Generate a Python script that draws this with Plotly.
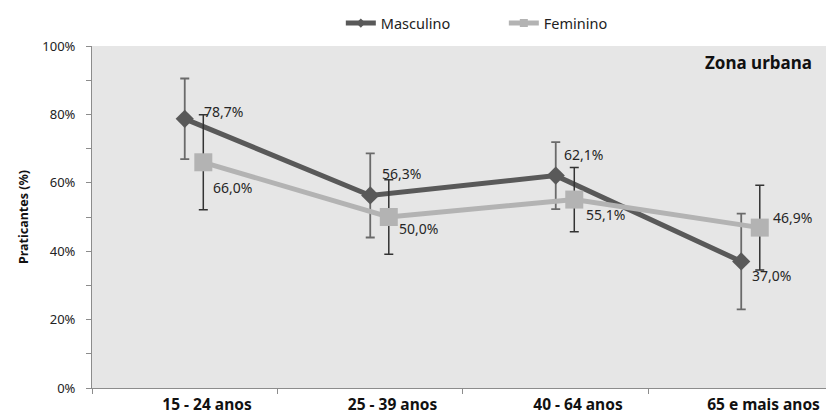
import plotly.graph_objects as go

categories = ["15 - 24 anos", "25 - 39 anos", "40 - 64 anos", "65 e mais anos"]
masc_values = [78.7, 56.3, 62.1, 37.0]
masc_err = [11.8, 12.3, 9.8, 14.0]
fem_values = [66.0, 50.0, 55.1, 46.9]
fem_err = [13.9, 10.9, 9.4, 12.4]
y_ticks = [0, 20, 40, 60, 80, 100]

# label offsets in px (style only)
masc_lbl_dx = [17, 10, 6, 9]
masc_lbl_dy = [7, 22, 21, -14]
fem_lbl_dx = [8, 8, 10, 11]
fem_lbl_dy = [-25, -11, -15, 10]

MASC = "#595959"
FEM = "#b3b3b3"


def fmt(v):
    return f"{v:.1f}".replace(".", ",") + "%"


x_idx = list(range(1, len(categories) + 1))
fem_shift = 0.1
label_shift = 0.12
x_fem = [i + fem_shift for i in x_idx]

fig = go.Figure()
fig.add_trace(go.Scatter(
    x=x_idx, y=masc_values, name="Masculino", mode="lines+markers", showlegend=False,
    line=dict(color=MASC, width=5),
    marker=dict(symbol="diamond", size=14, color=MASC),
    error_y=dict(type="data", array=masc_err, color="#6a6a6a", thickness=1.8, width=4.5),
))
fig.add_trace(go.Scatter(
    x=x_fem, y=fem_values, name="Feminino", mode="lines+markers", showlegend=False,
    line=dict(color=FEM, width=5),
    marker=dict(symbol="square", size=18, color=FEM),
    error_y=dict(type="data", array=fem_err, color="#333333", thickness=1.5, width=4.5),
))
# legend entries with small markers
fig.add_trace(go.Scatter(
    x=[None], y=[None], name="Masculino", mode="lines+markers",
    line=dict(color=MASC, width=5), marker=dict(symbol="diamond", size=7, color=MASC),
))
fig.add_trace(go.Scatter(
    x=[None], y=[None], name="Feminino", mode="lines+markers",
    line=dict(color=FEM, width=5), marker=dict(symbol="square", size=8, color=FEM),
))

lbl_font = dict(family="Noto Sans, Arial", size=14, color="#262626")
for xv, yv, dx, dy in zip(x_idx, masc_values, masc_lbl_dx, masc_lbl_dy):
    fig.add_annotation(x=xv, y=yv, text=fmt(yv), showarrow=False, xanchor="left",
                       yanchor="middle", xshift=dx, yshift=dy, font=lbl_font)
for xv, yv, dx, dy in zip(x_fem, fem_values, fem_lbl_dx, fem_lbl_dy):
    fig.add_annotation(x=xv, y=yv, text=fmt(yv), showarrow=False, xanchor="left",
                       yanchor="middle", xshift=dx, yshift=dy, font=lbl_font)

fig.add_annotation(
    text="<b>Zona urbana</b>", xref="paper", yref="paper", x=0.984, y=0.953,
    xanchor="right", yanchor="middle", showarrow=False,
    font=dict(family="Noto Sans, Arial", size=17, color="#111111"),
)

fig.update_layout(
    width=826, height=414,
    margin=dict(l=92, r=0, t=46, b=26, autoexpand=False),
    paper_bgcolor="white", plot_bgcolor="#e6e6e6",
    font=dict(family="Noto Sans, Arial", size=13, color="#222222"),
    legend=dict(orientation="h", x=0.339, xanchor="left", y=0.944, yanchor="middle",
                yref="container", font=dict(size=14.5, color="#222222"),
                bgcolor="rgba(0,0,0,0)", entrywidth=118, entrywidthmode="pixels",
                itemwidth=30),
    showlegend=True,
)

fig.update_xaxes(
    range=[0.5, 4.457], tickvals=[i + label_shift for i in x_idx], ticktext=categories, ticks="",
    tickfont=dict(family="Noto Sans, Arial", size=15.5, color="#111111", weight="bold"),
    ticklabelstandoff=2,
    showgrid=False, zeroline=False, showline=True, linecolor="#8c8c8c", linewidth=1,
    minor=dict(tick0=0.5, dtick=1, ticks="outside", ticklen=5, tickcolor="#8c8c8c", showgrid=False),
)
fig.update_yaxes(
    range=[0, 100], tickvals=y_ticks, ticktext=[f"{t}%" for t in y_ticks],
    ticks="outside", ticklen=5, tickcolor="#8c8c8c", ticklabelstandoff=8,
    tickfont=dict(family="Noto Sans, Arial", size=13, color="#222222"),
    showgrid=False, zeroline=False, showline=True, linecolor="#8c8c8c", linewidth=1,
    minor=dict(tick0=0, dtick=10, ticks="outside", ticklen=5, tickcolor="#8c8c8c", showgrid=False),
    title=dict(text="<b>Praticantes (%)</b>", font=dict(size=12.5, color="#111111"), standoff=10),
)

fig.write_html("out.html", config={"displayModeBar": False},
               post_script="document.body.style.margin='0';document.body.style.overflow='hidden';")
